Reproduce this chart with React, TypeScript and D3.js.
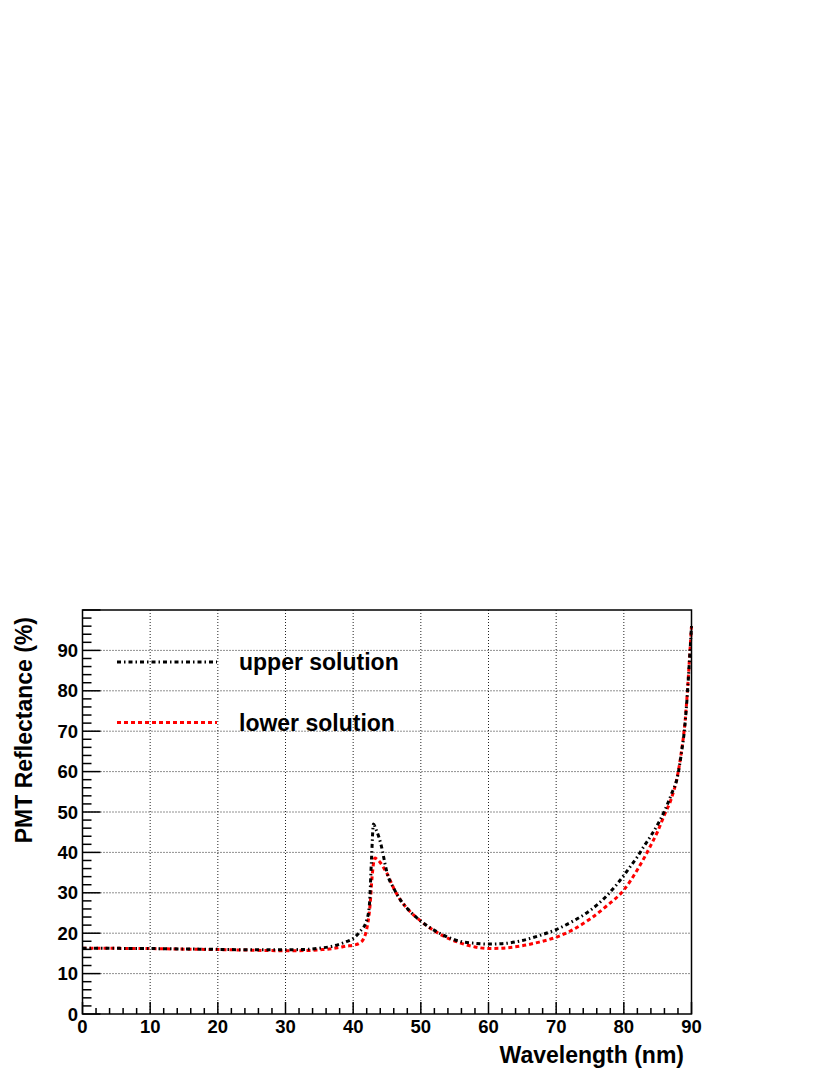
import React, { useEffect, useRef } from 'react';
import * as d3 from 'd3';

// wavelength samples and reflectance of the two solutions
const upperX = [0, 5, 10, 15, 20, 25, 30, 33, 35, 37, 38, 39, 40, 41, 42, 42.4, 42.7, 43.0, 43.4, 43.8, 44.3, 44.7, 45, 46, 47, 48, 50, 53, 56, 58, 60, 62, 65, 67.5, 70, 72.5, 75, 77.5, 80, 81, 82, 83, 84, 85, 86, 87, 88, 88.5, 89, 89.4, 89.7, 90];
const upperY = [16.3, 16.25, 16.2, 16.1, 16.0, 15.9, 15.9, 16.0, 16.3, 16.8, 17.3, 17.9, 18.7, 20.4, 23.2, 27, 38, 47.0, 45.6, 43.8, 40.6, 37.2, 35.0, 31.1, 28.2, 26.1, 23.0, 19.8, 17.9, 17.5, 17.3, 17.4, 18.2, 19.4, 20.9, 23.0, 25.6, 29.3, 34.3, 36.6, 38.9, 41.6, 44.1, 46.9, 50.2, 54.3, 59.3, 64.5, 71.0, 79.5, 87.5, 96];

const lowerX = [0, 5, 10, 15, 20, 25, 30, 33, 35, 37, 38, 39, 40, 41, 41.5, 42, 42.5, 42.8, 43.2, 43.6, 44, 44.5, 45, 46, 47, 48, 50, 53, 56, 58, 60, 62, 65, 67.5, 70, 72.5, 75, 77.5, 80, 82, 84, 85, 86, 87, 88, 88.6, 89, 89.4, 89.7, 90];
const lowerY = [16.3, 16.25, 16.2, 16.05, 15.95, 15.8, 15.65, 15.7, 15.9, 16.2, 16.5, 16.8, 17.0, 17.6, 18.5, 21.0, 27, 34, 38.6, 38.2, 37.5, 36.2, 34.8, 31.1, 28.2, 26.1, 23.0, 19.6, 17.5, 16.6, 16.2, 16.3, 16.9, 17.8, 19.0, 20.9, 23.5, 26.8, 30.7, 35.7, 41.8, 45.2, 49.3, 53.2, 59.6, 66, 71.5, 80, 88, 96];

const xTicks = [0, 10, 20, 30, 40, 50, 60, 70, 80, 90];
const yTicks = [0, 10, 20, 30, 40, 50, 60, 70, 80, 90];
const seriesNames = ['upper solution', 'lower solution'];

const W = 830;
const H = 1075;
const L = 82.5, R = 691.5, T = 610, B = 1014;
const FONT = '"Liberation Sans", Arial, Helvetica, sans-serif';

export default function App() {
  const ref = useRef<SVGSVGElement>(null);

  useEffect(() => {
    const svg = d3.select(ref.current);
    svg.selectAll('*').remove();

    const x = d3.scaleLinear().domain([0, 90]).range([L, R]);
    const y = d3.scaleLinear().domain([0, 100]).range([B, T]);

    svg.append('rect').attr('width', W).attr('height', H).attr('fill', '#fff');

    // grid
    const grid = svg.append('g')
      .attr('stroke', '#222')
      .attr('stroke-width', 1)
      .attr('stroke-dasharray', '1 2');
    grid.selectAll('.gx').data(xTicks.slice(1)).enter().append('line')
      .attr('x1', d => x(d)).attr('x2', d => x(d))
      .attr('y1', T).attr('y2', B);
    grid.selectAll('.gy').data(yTicks.slice(1)).enter().append('line')
      .attr('x1', L).attr('x2', R)
      .attr('y1', d => y(d)).attr('y2', d => y(d));

    // curves
    const line = d3.line<[number, number]>()
      .x(d => x(d[0]))
      .y(d => y(d[1]))
      .curve(d3.curveMonotoneX);

    const up: [number, number][] = upperX.map((v, i) => [v, upperY[i]]);
    const lo: [number, number][] = lowerX.map((v, i) => [v, lowerY[i]]);

    svg.append('path')
      .attr('d', line(lo))
      .attr('fill', 'none')
      .attr('stroke', '#ff0000')
      .attr('stroke-width', 3)
      .attr('stroke-dasharray', '4 3');

    svg.append('path')
      .attr('d', line(up))
      .attr('fill', 'none')
      .attr('stroke', '#000')
      .attr('stroke-width', 3)
      .attr('stroke-dasharray', '4 3 1.5 3');

    // frame
    svg.append('rect')
      .attr('x', L).attr('y', T)
      .attr('width', R - L).attr('height', B - T)
      .attr('fill', 'none')
      .attr('stroke', '#000')
      .attr('stroke-width', 1.5);

    // ticks
    const ticks = svg.append('g').attr('stroke', '#000').attr('stroke-width', 1.5);
    const xMinor = d3.range(0, 91, 2);
    ticks.selectAll('.tx').data(xMinor).enter().append('line')
      .attr('x1', d => x(d)).attr('x2', d => x(d))
      .attr('y1', B).attr('y2', d => B - (d % 10 === 0 ? 12 : 6));
    const yMinor = d3.range(0, 101, 2);
    ticks.selectAll('.ty').data(yMinor).enter().append('line')
      .attr('x1', L).attr('x2', d => L + (d % 10 === 0 ? 18 : 9))
      .attr('y1', d => y(d)).attr('y2', d => y(d));

    // tick labels
    svg.selectAll('.xl').data(xTicks).enter().append('text')
      .attr('x', d => x(d)).attr('y', 1033)
      .attr('text-anchor', 'middle')
      .attr('font-family', FONT).attr('font-weight', 'bold').attr('font-size', 18.5)
      .text(d => d);
    svg.selectAll('.yl').data(yTicks).enter().append('text')
      .attr('x', 78).attr('y', d => y(d) + 6.5)
      .attr('text-anchor', 'end')
      .attr('font-family', FONT).attr('font-weight', 'bold').attr('font-size', 18.5)
      .text(d => d);

    // axis titles
    svg.append('text')
      .attr('x', 684).attr('y', 1063)
      .attr('text-anchor', 'end')
      .attr('font-family', FONT).attr('font-weight', 'bold').attr('font-size', 23)
      .text('Wavelength (nm)');
    svg.append('text')
      .attr('transform', 'translate(32,617) rotate(-90)')
      .attr('text-anchor', 'end')
      .attr('font-family', FONT).attr('font-weight', 'bold').attr('font-size', 23)
      .text('PMT Reflectance (%)');

    // legend
    const legend = [
      { name: seriesNames[0], color: '#000', dash: '4 3 1.5 3', yy: 662 },
      { name: seriesNames[1], color: '#ff0000', dash: '4 3', yy: 722.5 },
    ];
    legend.forEach(l => {
      svg.append('line')
        .attr('x1', 117).attr('x2', 217)
        .attr('y1', l.yy).attr('y2', l.yy)
        .attr('stroke', l.color).attr('stroke-width', 3)
        .attr('stroke-dasharray', l.dash);
      svg.append('text')
        .attr('x', 239).attr('y', l.yy + 8)
        .attr('font-family', FONT).attr('font-weight', 'bold').attr('font-size', 23)
        .text(l.name);
    });
  }, []);

  return (
    <svg ref={ref} width={W} height={H}
      style={{ position: 'absolute', left: 0, top: 0, display: 'block' }} />
  );
}
